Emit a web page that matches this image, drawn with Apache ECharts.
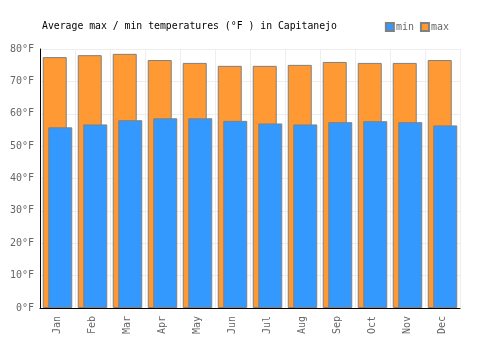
<!DOCTYPE html>
<html>
<head>
<meta charset="utf-8">
<script src="https://cdn.jsdelivr.net/npm/echarts@6/dist/echarts.min.js"></script>
</head>
<body style="margin:0">
<div id="container" style="width:500px;height:350px"></div>
<script>
var months = ['Jan','Feb','Mar','Apr','May','Jun','Jul','Aug','Sep','Oct','Nov','Dec'];
var minTemps = [55.8, 56.7, 58.0, 58.6, 58.6, 57.8, 57.0, 56.7, 57.4, 57.7, 57.4, 56.4];
var maxTemps = [77.5, 78.1, 78.5, 76.6, 75.7, 74.8, 74.8, 75.1, 76.0, 75.7, 75.7, 76.6];

var font = 'DejaVu Sans Mono';
var chart = echarts.init(document.getElementById('container'));
chart.setOption({
    animation: false,
    backgroundColor: '#fff',
    title: {
        text: 'Average max / min temperatures (°F ) in Capitanejo',
        left: 37, top: 16,
        textStyle: { fontFamily: font, fontSize: 9.8, fontWeight: 'normal', color: '#000' }
    },
    legend: {
        right: 46, top: 17,
        itemWidth: 8, itemHeight: 8, itemGap: 6,
        icon: 'rect',
        textStyle: { fontFamily: font, fontSize: 10, color: '#666', padding: [0, 0, 0, -3] },
        data: ['min', 'max']
    },
    grid: { left: 40, right: 40, top: 49, bottom: 42 },
    xAxis: {
        type: 'category',
        data: months,
        axisLine: { lineStyle: { color: '#000', width: 1 } },
        axisTick: { show: false },
        axisLabel: { rotate: 90, fontFamily: font, fontSize: 10, color: '#666', margin: 8 },
        splitLine: { show: true, lineStyle: { color: '#eee' } }
    },
    yAxis: {
        type: 'value',
        min: 0, max: 80, interval: 10,
        axisLine: { show: true, lineStyle: { color: '#000', width: 1 } },
        axisTick: { show: false },
        axisLabel: { formatter: '{value}°F', fontFamily: font, fontSize: 10, color: '#666', margin: 6 },
        splitLine: { lineStyle: { color: '#eee' } }
    },
    series: [
        {
            name: 'max', type: 'bar', data: maxTemps,
            barWidth: 24, barGap: '-77%',
            itemStyle: { color: '#ff9933', borderColor: '#808080', borderWidth: 1 }
        },
        {
            name: 'min', type: 'bar', data: minTemps,
            barWidth: 24,
            itemStyle: { color: '#3399ff', borderColor: '#808080', borderWidth: 1 }
        }
    ]
});
</script>
</body>
</html>
